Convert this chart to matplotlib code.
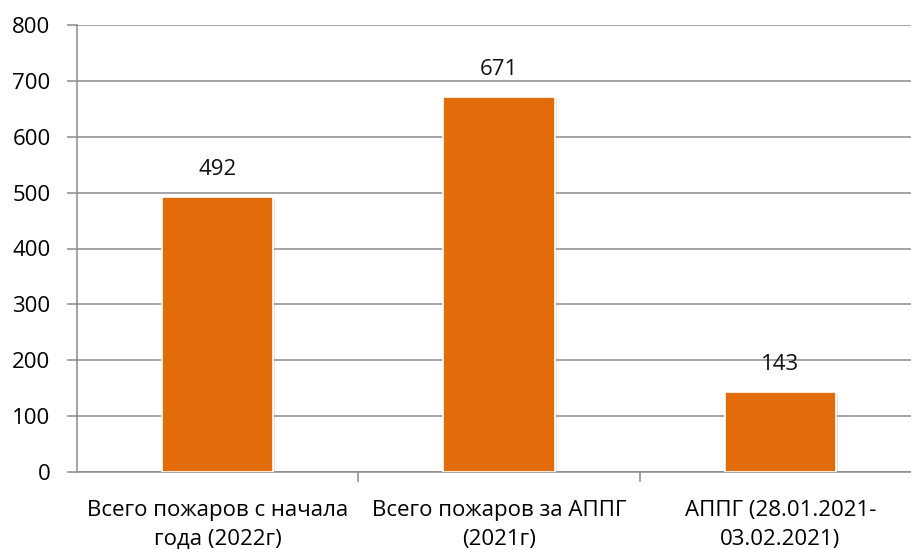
import matplotlib
matplotlib.use("Agg")
import matplotlib.pyplot as plt
import matplotlib.patheffects as pe

categories = ["Всего пожаров с начала\nгода (2022г)", "Всего пожаров за АППГ\n(2021г)", "АППГ (28.01.2021-\n03.02.2021)"]
values = [492, 671, 143]
yticks = [0, 100, 200, 300, 400, 500, 600, 700, 800]

plt.rcParams['font.family'] = ['Open Sans', 'DejaVu Sans']
W, H = 912, 549
fig = plt.figure(figsize=(W/100, H/100), dpi=100)
left, right, top, bottom = 77, 921, 25, 472
ax = fig.add_axes([left/W, 1-bottom/H, (right-left)/W, (bottom-top)/H])

FS = 16

x = list(range(len(values)))
bars = ax.bar(x, values, width=0.395, color='#E36C0A', edgecolor='white', linewidth=1.2, zorder=3)
for b in bars:
    b.set_path_effects([pe.SimplePatchShadow(offset=(1.5, -1.5), shadow_rgbFace='#999999', alpha=0.25), pe.Normal()])

for xi, v in zip(x, values):
    ax.annotate(str(v), (xi, v), xytext=(0, 20), textcoords='offset points', ha='center', va='center', fontsize=FS, color='#111111')

ax.set_xlim(-0.5, 2.5)
ax.set_ylim(0, 800)
ax.set_yticks(yticks)
ax.set_yticklabels([str(t) for t in yticks], fontsize=FS)
ax.yaxis.grid(True, color='#8c8c8c', linewidth=1.1, zorder=0)
ax.set_axisbelow(True)

ax.set_xticks(x)
ax.set_xticklabels(categories, fontsize=FS, linespacing=1.5)
ax.tick_params(axis='x', length=0, pad=20)
ax.set_xticks([0.5, 1.5], minor=True)
ax.tick_params(axis='x', which='minor', length=7, width=1.1, color='#8c8c8c')
ax.tick_params(axis='y', length=7, width=1.1, color='#8c8c8c', pad=12)

for s in ['top', 'right']:
    ax.spines[s].set_visible(False)
for s in ['left', 'bottom']:
    ax.spines[s].set_color('#8c8c8c')
    ax.spines[s].set_linewidth(1.1)

fig.savefig('out.png', dpi=100, facecolor='white')
